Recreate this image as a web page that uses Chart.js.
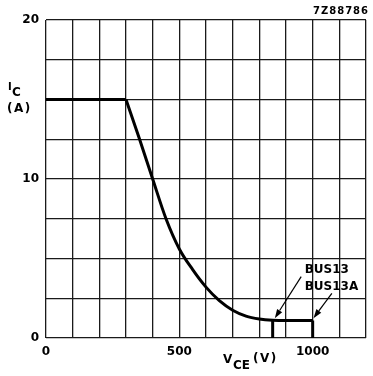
<!DOCTYPE html>
<html>
<head>
<meta charset="utf-8">
<script src="https://cdn.jsdelivr.net/npm/chart.js@4"></script>
<style>
  html, body { margin: 0; padding: 0; background: #fff; }
  #wrap { width: 373px; height: 376px; position: relative; }
</style>
</head>
<body>
<div id="wrap"><canvas id="soa"></canvas></div>
<script>
// Safe operating area: collector current limit vs. collector-emitter voltage
const vceFlat = [0, 300];
const icFlat = [15, 15];

const vceCurve = [300, 350, 400, 450, 500, 550, 600, 650, 700, 750, 800, 850, 900, 950, 1000];
const icCurve = [15, 12.55, 10, 7.5, 5.6, 4.3, 3.2, 2.35, 1.75, 1.38, 1.2, 1.12, 1.1, 1.1, 1.1];

// Voltage cut-offs for the two device types
const bus13Vce = [850, 850];
const bus13Ic = [1.12, 0];
const bus13AVce = [1000, 1000];
const bus13AIc = [1.1, 0];

// Axis ranges and labelled ticks
const xMax = 1200, xStep = 100;
const yMax = 20, yStep = 2.5;
const xLabels = [0, 500, 1000];
const yLabels = [0, 10, 20];

// Device labels with arrows (data coordinates)
const deviceNames = ['BUS13', 'BUS13A'];
const nameAnchor = [[970, 4.3], [970, 3.2]];
const arrowTail = [[957, 3.86], [1072, 2.81]];
const arrowHead = [[858, 1.25], [1003, 1.25]];

const pts = (xs, ys) => xs.map((x, i) => ({ x: x, y: ys[i] }));

const FONT = '"DejaVu Sans", Verdana, sans-serif';

const textPlugin = {
  id: 'soaText',
  afterDraw(chart) {
    const ctx = chart.ctx;
    const xs = chart.scales.x, ys = chart.scales.y;
    ctx.save();
    ctx.fillStyle = '#000';
    ctx.strokeStyle = '#000';
    ctx.textBaseline = 'alphabetic';
    ctx.textAlign = 'left';

    // y axis title
    ctx.font = 'bold 10px ' + FONT;
    ctx.fillText('I', 8, 90);
    ctx.font = 'bold 12px ' + FONT;
    ctx.fillText('C', 12, 96);
    ctx.letterSpacing = '1.5px';
    ctx.fillText('(A)', 7, 112);
    ctx.letterSpacing = '0px';

    // x axis title
    ctx.font = 'bold 12px ' + FONT;
    ctx.fillText('V', 223, 363);
    ctx.fillText('CE', 233, 369);
    ctx.letterSpacing = '1.5px';
    ctx.fillText('(V)', 253, 362);
    ctx.letterSpacing = '0px';

    // drawing reference code
    ctx.font = 'bold 10px ' + FONT;
    ctx.letterSpacing = '1px';
    ctx.fillText('7Z88786', 313, 14);
    ctx.letterSpacing = '0px';

    // device names
    ctx.font = 'bold 12px ' + FONT;
    ctx.textBaseline = 'middle';
    deviceNames.forEach((n, i) => {
      ctx.fillText(n, xs.getPixelForValue(nameAnchor[i][0]), ys.getPixelForValue(nameAnchor[i][1]));
    });

    // arrows
    ctx.lineWidth = 1.2;
    arrowTail.forEach((t, i) => {
      const x0 = xs.getPixelForValue(t[0]), y0 = ys.getPixelForValue(t[1]);
      const x1 = xs.getPixelForValue(arrowHead[i][0]), y1 = ys.getPixelForValue(arrowHead[i][1]);
      const a = Math.atan2(y1 - y0, x1 - x0);
      const len = 9, half = 3;
      const bx = x1 - len * Math.cos(a), by = y1 - len * Math.sin(a);
      ctx.beginPath();
      ctx.moveTo(x0, y0);
      ctx.lineTo(bx, by);
      ctx.stroke();
      ctx.beginPath();
      ctx.moveTo(x1, y1);
      ctx.lineTo(bx + half * Math.sin(a), by - half * Math.cos(a));
      ctx.lineTo(bx - half * Math.sin(a), by + half * Math.cos(a));
      ctx.closePath();
      ctx.fill();
    });
    ctx.restore();
  }
};

const lineStyle = { borderColor: '#000', borderWidth: 3, pointRadius: 0, fill: false, tension: 0 };

new Chart(document.getElementById('soa'), {
  type: 'scatter',
  data: {
    datasets: [
      Object.assign({ data: pts(vceFlat, icFlat), showLine: true }, lineStyle),
      Object.assign({ data: pts(vceCurve, icCurve), showLine: true, cubicInterpolationMode: 'monotone' }, lineStyle),
      Object.assign({ data: pts(bus13Vce, bus13Ic), showLine: true }, lineStyle, { borderCapStyle: 'butt' }),
      Object.assign({ data: pts(bus13AVce, bus13AIc), showLine: true }, lineStyle, { borderCapStyle: 'butt' })
    ]
  },
  options: {
    responsive: true,
    maintainAspectRatio: false,
    animation: false,
    layout: { padding: { left: 0, top: 20, right: 6, bottom: 0 } },
    plugins: { legend: { display: false }, tooltip: { enabled: false } },
    scales: {
      x: {
        type: 'linear', min: 0, max: xMax,
        afterFit(s) { s.height = 38; },
        border: { display: false },
        grid: { color: '#1a1a1a', lineWidth: 1.3, drawTicks: false },
        ticks: {
          stepSize: xStep, autoSkip: false, maxRotation: 0, padding: 7,
          color: '#000', font: { family: FONT, size: 12, weight: 'bold' },
          callback: v => xLabels.includes(v) ? String(v) : ''
        }
      },
      y: {
        type: 'linear', min: 0, max: yMax,
        afterFit(s) { s.width = 46; },
        border: { display: false },
        grid: { color: '#1a1a1a', lineWidth: 1.3, drawTicks: false },
        ticks: {
          stepSize: yStep, autoSkip: false, padding: 7,
          color: '#000', font: { family: FONT, size: 12, weight: 'bold' },
          callback: v => yLabels.includes(v) ? String(v) : ''
        }
      }
    }
  },
  plugins: [textPlugin]
});
</script>
</body>
</html>
